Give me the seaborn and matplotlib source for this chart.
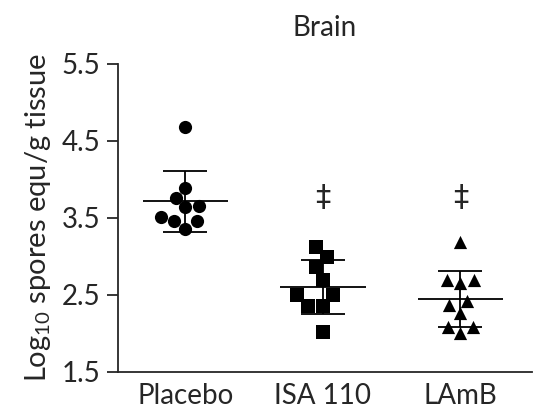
import pandas as pd
import numpy as np
import matplotlib.pyplot as plt
import seaborn as sns

sns.set_style("ticks")
plt.rcParams['font.family'] = ['Lato', 'DejaVu Sans']
plt.rcParams['mathtext.default'] = 'regular'

# data (log10 spores equ/g tissue)
groups = ['Placebo', 'ISA 110', 'LAmB']
placebo = [4.68, 3.89, 3.76, 3.66, 3.64, 3.51, 3.46, 3.46, 3.36]
isa110 = [3.12, 2.99, 2.86, 2.69, 2.50, 2.50, 2.36, 2.36, 2.02]
lamb = [3.19, 2.69, 2.66, 2.69, 2.42, 2.37, 2.27, 2.08, 2.00, 2.08]
signif = ['', '\u2021', '\u2021']
markers = ['o', 's', '^']

df = pd.DataFrame({
    'group': ['Placebo'] * len(placebo) + ['ISA 110'] * len(isa110) + ['LAmB'] * len(lamb),
    'value': placebo + isa110 + lamb,
})

fig, ax = plt.subplots(figsize=(5.39, 4.15), dpi=100)
fig.subplots_adjust(left=0.219, right=0.987, top=0.846, bottom=0.104)

for g, m in zip(groups, markers):
    sub = df[df['group'] == g]
    sns.swarmplot(data=sub, x='group', y='value', order=groups, marker=m,
                  color='black', size=9.5 if m != 's' else 10.5, ax=ax)

# mean line and SD bars
stats = df.groupby('group', sort=False)['value'].agg(['mean', 'std'])
for i, g in enumerate(groups):
    mu, sd = stats.loc[g, 'mean'], stats.loc[g, 'std']
    ax.hlines(mu, i - 0.31, i + 0.31, color='black', lw=1.3, zorder=1)
    ax.errorbar(i, mu, yerr=sd, fmt='none', ecolor='black', elinewidth=1.3,
                capsize=16, capthick=1.3, zorder=1)
    if signif[i]:
        ax.text(i, 3.76, signif[i], ha='center', va='center', fontsize=22,
                family=['DejaVu Sans'])

ax.set_ylim(1.5, 5.5)
ax.set_xlim(-0.49, 2.52)
ax.set_yticks([1.5, 2.5, 3.5, 4.5, 5.5])
ax.set_xlabel('')
ax.set_ylabel('Log$_{10}$ spores equ/g tissue', fontsize=21, labelpad=6)
ax.set_title('Brain', fontsize=20, pad=20)
ax.tick_params(axis='y', length=8, width=1.3, labelsize=20, direction='out', pad=5)
ax.tick_params(axis='x', length=0, labelsize=20, pad=8)
for s in ['left', 'bottom']:
    ax.spines[s].set_linewidth(1.3)
sns.despine(ax=ax)

fig.savefig('out.png', dpi=100)
